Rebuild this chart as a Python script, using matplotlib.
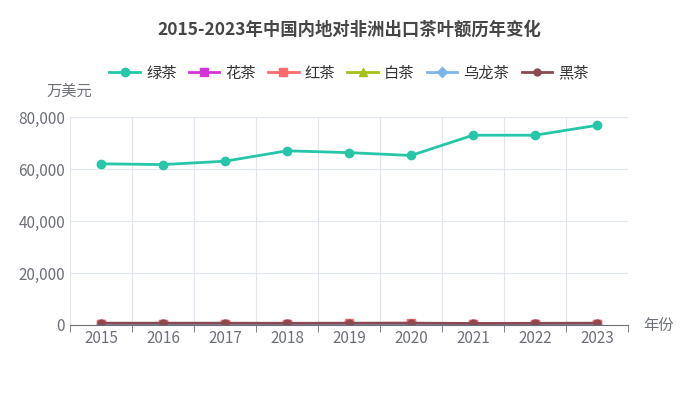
import matplotlib
matplotlib.use("Agg")
import matplotlib.pyplot as plt
from matplotlib.ticker import FuncFormatter

plt.rcParams['font.family'] = ['Noto Sans CJK SC', 'DejaVu Sans']

years = ["2015", "2016", "2017", "2018", "2019", "2020", "2021", "2022", "2023"]
green = [62000, 61700, 63000, 67000, 66300, 65200, 73000, 73000, 76800]
flower = [300, 300, 300, 250, 300, 350, 250, 250, 300]
black = [400, 450, 400, 350, 600, 700, 350, 400, 450]
white = [50, 50, 60, 60, 70, 80, 60, 60, 70]
oolong = [150, 150, 150, 120, 150, 150, 120, 120, 130]
dark = [700, 700, 700, 650, 700, 700, 600, 650, 700]

series = [
    ("绿茶", green, "#26c6a8", "o", 6),
    ("花茶", flower, "#d633d6", "s", 6),
    ("红茶", black, "#ff6b6b", "s", 6),
    ("白茶", white, "#a5c21c", "^", 6),
    ("乌龙茶", oolong, "#7eb6ea", "D", 5),
    ("黑茶", dark, "#8b4a52", "o", 5),
]

fig = plt.figure(figsize=(6.98, 4.07), dpi=100)
ax = fig.add_axes([0.1003, 0.2015, 0.7994, 0.511])
x = list(range(len(years)))
for name, vals, color, mk, ms in series:
    ax.plot(x, vals, color=color, marker=mk, markersize=ms, linewidth=2, label=name)

ax.set_xlim(-0.5, len(years) - 0.5)
ax.set_ylim(0, 80000)
ax.set_yticks([0, 20000, 40000, 60000, 80000])
ax.yaxis.set_major_formatter(FuncFormatter(lambda v, p: f"{int(v):,}"))
ax.set_xticks(x)
ax.set_xticklabels(years)
ax.set_xticks([i - 0.5 for i in range(len(years) + 1)], minor=True)
ax.grid(True, axis="y", color="#e0e6f1")
ax.grid(True, axis="x", which="minor", color="#e0e6f1")
ax.tick_params(axis="x", which="major", length=0, labelsize=11, colors="#6e7079")
ax.tick_params(axis="x", which="minor", length=5, color="#6e7079")
ax.tick_params(axis="y", length=0, labelsize=11, colors="#6e7079")
for s in ["top", "right", "left"]:
    ax.spines[s].set_visible(False)
ax.spines["bottom"].set_color("#6e7079")
ax.set_axisbelow(True)

fig.text(0.5, 0.915, "2015-2023年中国内地对非洲出口茶叶额历年变化", ha="center",
         fontsize=12.5, fontweight="bold", color="#464646")
fig.text(0.1, 0.765, "万美元", ha="center", fontsize=11, color="#6e7079")
fig.text(0.922, 0.2, "年份", ha="left", va="center", fontsize=11, color="#6e7079")
fig.legend(loc="center", bbox_to_anchor=(0.5, 0.82), ncol=6, frameon=False,
           fontsize=11, handlelength=2.0, columnspacing=0.8, handletextpad=0.4,
           labelcolor="#333333")

fig.savefig("out.png", dpi=100)
